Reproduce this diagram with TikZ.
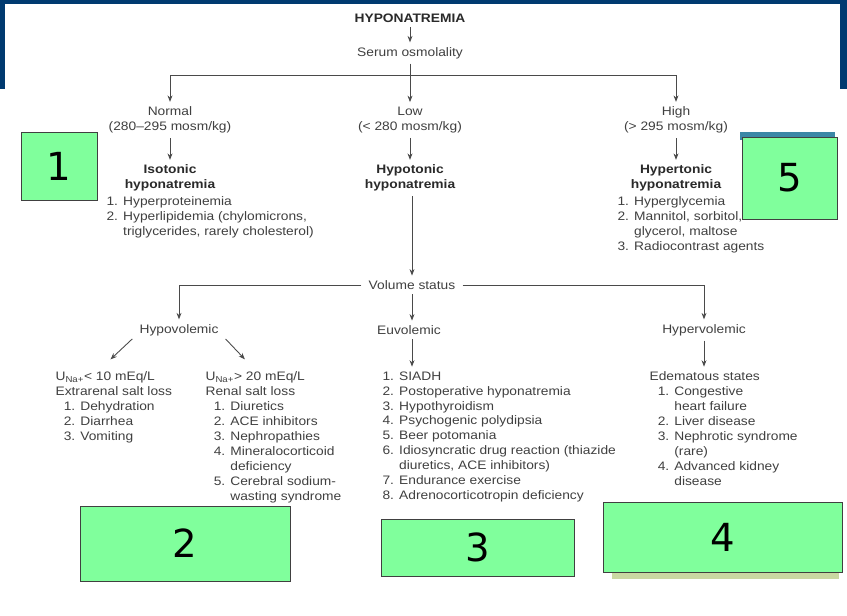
\documentclass[tikz,border=0pt]{standalone}
\usepackage{fontspec}
\setmainfont{Liberation Sans}[FakeStretch=1.12]
\newfontfamily\handfont{DejaVu Sans}
\usetikzlibrary{calc,arrows.meta}

\definecolor{framenavy}{HTML}{003A70}
\definecolor{txtgray}{HTML}{404040}
\definecolor{headgray}{HTML}{2A2A2A}
\definecolor{linegray}{HTML}{4A4A4A}
\definecolor{boxgreen}{HTML}{80FF9C}
\definecolor{boxedge}{HTML}{404040}
\definecolor{tealedge}{HTML}{3B87A6}
\definecolor{olive}{HTML}{C9D8A2}

\newcommand{\numind}{\hspace*{7pt}}
\newcommand{\contind}[1]{\phantom{#1}}

\begin{document}
\begin{tikzpicture}[x=0.03cm, y=-0.03cm,
  txt/.style={font=\fontsize{10.5}{12.75}\selectfont, text=txtgray, inner sep=2pt},
  head/.style={txt, font=\fontsize{10.5}{12.75}\selectfont\bfseries, text=headgray, align=center},
  lst/.style={txt, align=left, anchor=north west},
  conn/.style={draw=linegray, line width=0.75pt},
  arr/.style={conn, -{Stealth[length=5.5pt,width=4.2pt]}, shorten <=2pt, shorten >=2pt},
  numbox/.style={draw=boxedge, line width=0.8pt, fill=boxgreen, text=black,
    font=\handfont\fontsize{33}{33}\selectfont}]
\fill[white] (0,0) rectangle (847,615);
\useasboundingbox (0,0) rectangle (847,615);
% frame
\fill[framenavy] (0,0) rectangle (847,4);
\fill[framenavy] (0,0) rectangle (5,89);
\fill[framenavy] (840,0) rectangle (847,89);

% serum osmolality
\node[head] (hypo) at (410,18) {HYPONATREMIA};
\node[txt] (serum) at (410,53) {Serum osmolality};
\coordinate (split) at (410,75);
\coordinate (splitL) at (170,75);
\coordinate (splitR) at (676,75);
\node[txt, align=center] (normal) at (170,120) {Normal\\(280--295 mosm/kg)};
\node[txt, align=center] (low) at (410,120) {Low\\(< 280 mosm/kg)};
\node[txt, align=center] (high) at (676,120) {High\\(> 295 mosm/kg)};
\draw[arr] (hypo) -- (serum);
\draw[conn, shorten <=2pt] (serum) -- (split);
\draw[conn] (splitL) -- (splitR);
\draw[arr, shorten <=0pt] (splitL) -- (normal);
\draw[arr, shorten <=0pt] (split) -- (low);
\draw[arr, shorten <=0pt] (splitR) -- (high);

% tonicity
\node[head] (iso) at (170,178) {Isotonic\\hyponatremia};
\node[head] (hypot) at (410,178) {Hypotonic\\hyponatremia};
\node[head] (hyper) at (676,178) {Hypertonic\\hyponatremia};
\draw[arr] (normal) -- (iso);
\draw[arr] (low) -- (hypot);
\draw[arr] (high) -- (hyper);
\node[lst] (isolist) at (104,194) {1. Hyperproteinemia\\2. Hyperlipidemia (chylomicrons,\\\contind{2. }triglycerides, rarely cholesterol)};
\node[lst] (hyperlist) at (615,194) {1. Hyperglycemia\\2. Mannitol, sorbitol,\\\contind{2. }glycerol, maltose\\3. Radiocontrast agents};

% volume status
\node[txt] (vol) at (412,285) {Volume status};
\node[txt] (hypov) at (179,330) {Hypovolemic};
\node[txt] (euv) at (409,330) {Euvolemic};
\node[txt] (hyperv) at (704,330) {Hypervolemic};
\draw[arr] (hypot.south -| vol) -- (vol);
\draw[arr, shorten <=4pt] (vol.west) -| (hypov);
\draw[arr, shorten <=4pt] (vol.east) -| (hyperv);
\draw[arr] (vol) -- (vol |- euv.north);

\node[lst] (extra) at (53,369) {U\textsubscript{Na+}< 10 mEq/L\\Extrarenal salt loss\\\numind 1. Dehydration\\\numind 2. Diarrhea\\\numind 3. Vomiting};
\node[lst] (renal) at (203,369) {U\textsubscript{Na+}> 20 mEq/L\\Renal salt loss\\\numind 1. Diuretics\\\numind 2. ACE inhibitors\\\numind 3. Nephropathies\\\numind 4. Mineralocorticoid\\\numind\contind{4. }deficiency\\\numind 5. Cerebral sodium-\\\numind\contind{5. }wasting syndrome};
\node[lst] (euvlist) at (380,369) {1. SIADH\\2. Postoperative hyponatremia\\3. Hypothyroidism\\4. Psychogenic polydipsia\\5. Beer potomania\\6. Idiosyncratic drug reaction (thiazide\\\contind{6. }diuretics, ACE inhibitors)\\7. Endurance exercise\\8. Adrenocorticotropin deficiency};
\node[lst] (edema) at (647,369) {Edematous states\\\numind 1. Congestive\\\numind\contind{1. }heart failure\\\numind 2. Liver disease\\\numind 3. Nephrotic syndrome\\\numind\contind{3. }(rare)\\\numind 4. Advanced kidney\\\numind\contind{4. }disease};
\draw[arr] ($(hypov.south west)+(-3,-1)$) -- ($(extra.north)+(-5,-8)$);
\draw[arr] ($(hypov.south east)+(3,-1)$) -- ($(renal.north)+(-27,-8)$);
\draw[arr] (vol |- euv.south) -- (vol |- euvlist.north);
\draw[arr] (hyperv) -- (hyperv |- edema.north);

% answer boxes
\fill[tealedge] (740,132) rectangle (835,140);
\fill[olive] (612,566) rectangle (839,579);
\node[numbox, minimum width=2.28cm, minimum height=2.04cm] (box1) at (59,166) {1};
\node[numbox, minimum width=6.3cm, minimum height=2.25cm] (box2) at (185,543.5) {2};
\node[numbox, minimum width=5.79cm, minimum height=1.71cm] (box3) at (477.5,547.5) {3};
\node[numbox, minimum width=7.17cm, minimum height=2.1cm] (box4) at (722.5,537) {4};
\node[numbox, minimum width=2.85cm, minimum height=2.46cm] (box5) at (789.5,178) {5};
\end{tikzpicture}
\end{document}
